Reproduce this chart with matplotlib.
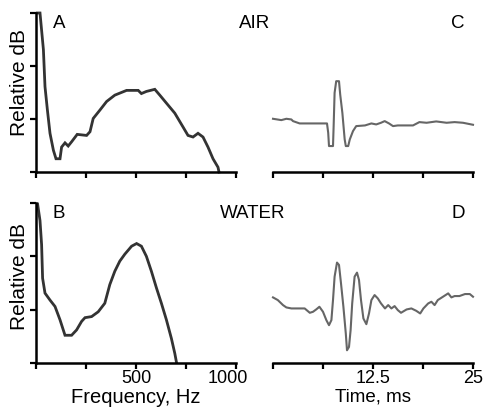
import matplotlib
matplotlib.use("Agg")
import matplotlib.pyplot as plt
from matplotlib.transforms import ScaledTranslation

plt.rcParams['font.family'] = ['Liberation Sans', 'DejaVu Sans']

# Spectrum, air (panel A)
freq_air = [7, 20, 37, 45, 57, 70, 87, 100, 120, 128, 145, 161, 178, 206, 253, 270,
            286, 320, 353, 394, 453, 511, 527, 552, 594, 619, 652, 694, 735, 760,
            785, 810, 835, 860, 885, 910, 915]
db_air = [3.0, 3.0, 2.31, 1.61, 1.17, 0.73, 0.41, 0.25, 0.25, 0.47, 0.55, 0.49, 0.57,
          0.71, 0.69, 0.76, 1.01, 1.17, 1.33, 1.45, 1.54, 1.54, 1.48, 1.52, 1.56,
          1.45, 1.30, 1.11, 0.85, 0.69, 0.66, 0.73, 0.66, 0.47, 0.25, 0.09, 0.0]

# Spectrum, water (panel B)
freq_water = [8, 20, 28, 33, 45, 70, 95, 120, 145, 178, 203, 228, 245, 278, 311, 344,
              369, 394, 419, 444, 478, 503, 527, 552, 577, 602, 627, 652, 677, 694, 702]
db_water = [2.98, 2.67, 2.22, 1.59, 1.31, 1.18, 1.06, 0.81, 0.52, 0.52, 0.62, 0.78,
            0.85, 0.87, 0.96, 1.12, 1.47, 1.72, 1.91, 2.04, 2.19, 2.24, 2.19, 2.00,
            1.72, 1.41, 1.12, 0.81, 0.46, 0.18, 0.02]

# Waveform, air (panel C)
time_air = [0, 1.04, 1.67, 2.29, 2.5, 3.33, 6.75, 6.9, 7.0, 7.5, 7.58, 7.7, 7.9, 8.25,
            8.4, 8.67, 8.96, 9.1, 9.4, 9.6, 10.0, 10.4, 11.5, 12.3, 12.9, 13.5, 13.96,
            14.5, 15.0, 15.6, 17.5, 18.3, 19.2, 20.4, 21.7, 22.7, 23.75, 25]
amp_air = [0.22, 0.18, 0.22, 0.20, 0.15, 0.08, 0.08, -0.2, -0.6, -0.6, 0.0, 1.0, 1.35,
           1.35, 0.95, 0.4, -0.4, -0.6, -0.6, -0.4, -0.15, 0.0, 0.02, 0.08, 0.05, 0.1,
           0.15, 0.08, 0.0, 0.02, 0.02, 0.12, 0.10, 0.14, 0.10, 0.12, 0.10, 0.04]

# Waveform, water (panel D)
time_water = [0, 0.6, 1.25, 1.67, 2.3, 3.96, 4.6, 5.0, 5.4, 5.8, 6.25, 6.67, 7.0, 7.3,
              7.5, 7.7, 8.0, 8.25, 8.5, 8.8, 9.1, 9.25, 9.5, 9.7, 9.9, 10.2, 10.5,
              10.75, 11.0, 11.3, 11.67, 12.0, 12.3, 12.7, 13.1, 13.5, 14.0, 14.4, 14.8,
              15.2, 15.6, 16.0, 16.7, 17.3, 17.9, 18.4, 18.8, 19.4, 19.8, 20.2, 20.6,
              21.25, 21.9, 22.3, 22.7, 23.3, 24.0, 24.6, 25]
amp_water = [0.58, 0.5, 0.35, 0.28, 0.25, 0.25, 0.12, 0.15, 0.22, 0.3, 0.15, -0.1,
             -0.25, -0.1, 0.5, 1.2, 1.62, 1.55, 1.0, 0.3, -0.5, -1.0, -0.9, -0.4, 0.4,
             1.2, 1.32, 1.1, 0.5, -0.05, -0.22, 0.1, 0.5, 0.65, 0.55, 0.4, 0.25, 0.35,
             0.25, 0.32, 0.2, 0.12, 0.22, 0.25, 0.18, 0.1, 0.25, 0.4, 0.45, 0.35, 0.5,
             0.6, 0.7, 0.58, 0.62, 0.62, 0.68, 0.68, 0.6]

freq_ticks = [0, 250, 500, 750, 1000]
freq_ticklabels = ['', '', '500', '', '1000']
time_ticks = [0, 6.25, 12.5, 18.75, 25]
time_ticklabels = ['', '', '12.5', '', '25']
db_ticks = [0, 1, 2, 3]

W, H = 485, 413
fig = plt.figure(figsize=(W / 100, H / 100), dpi=100)

def rect(l, t, r, b):
    return [l / W, 1 - b / H, (r - l) / W, (b - t) / H]

axA = fig.add_axes(rect(36, 13, 236, 172))
axB = fig.add_axes(rect(36, 203, 236, 363))
axC = fig.add_axes(rect(273, 13, 473, 172))
axD = fig.add_axes(rect(273, 203, 473, 363))

tick_fs = 13
for ax, x, y in [(axA, freq_air, db_air), (axB, freq_water, db_water)]:
    ax.plot(x, y, color='#333333', lw=2.0, clip_on=False, solid_joinstyle='miter')
    ax.set_xlim(0, 1000)
    ax.set_ylim(0, 3)
    ax.set_xticks(freq_ticks)
    ax.set_yticks(db_ticks)
    ax.set_yticklabels([])
    ax.set_ylabel('Relative dB', fontsize=15)
    for s in ['top', 'right']:
        ax.spines[s].set_visible(False)
    for s in ['left', 'bottom']:
        ax.spines[s].set_linewidth(1.8)
    ax.tick_params(direction='out', length=4, width=1.6, labelsize=tick_fs, pad=1)

axA.yaxis.set_label_coords(-0.035, 0.56)
axB.yaxis.set_label_coords(-0.035, 0.54)

for ax, x, y in [(axC, time_air, amp_air), (axD, time_water, amp_water)]:
    ax.plot(x, y, color='#666666', lw=1.5, clip_on=False)
    ax.set_xlim(0, 25)
    ax.set_ylim(-1.38, 3.4)
    ax.set_xticks(time_ticks)
    ax.set_yticks([])
    for s in ['top', 'right', 'left']:
        ax.spines[s].set_visible(False)
    ax.spines['bottom'].set_linewidth(1.8)
    ax.tick_params(direction='out', length=4, width=1.6, labelsize=tick_fs, pad=1)

axA.set_xticklabels([])
axC.set_xticklabels([])
axB.set_xticklabels(freq_ticklabels)
axD.set_xticklabels(time_ticklabels)
lbl = axB.get_xticklabels()[-1]
lbl.set_transform(lbl.get_transform() + ScaledTranslation(-8 / 100, 0, fig.dpi_scale_trans))
axB.set_xlabel('Frequency, Hz', fontsize=14.5, labelpad=1)
axD.set_xlabel('Time, ms', fontsize=13.5, labelpad=1)

tfs = 13.5
fig.text(59.5 / W, 1 - 28 / H, 'A', fontsize=tfs, ha='center', va='baseline')
fig.text(255 / W, 1 - 28 / H, 'AIR', fontsize=tfs, ha='center', va='baseline')
fig.text(458 / W, 1 - 28 / H, 'C', fontsize=tfs, ha='center', va='baseline')
fig.text(59 / W, 1 - 218 / H, 'B', fontsize=tfs, ha='center', va='baseline')
fig.text(253 / W, 1 - 218 / H, 'WATER', fontsize=tfs, ha='center', va='baseline')
fig.text(458 / W, 1 - 218 / H, 'D', fontsize=tfs, ha='center', va='baseline')

fig.savefig('out.png', dpi=100)
